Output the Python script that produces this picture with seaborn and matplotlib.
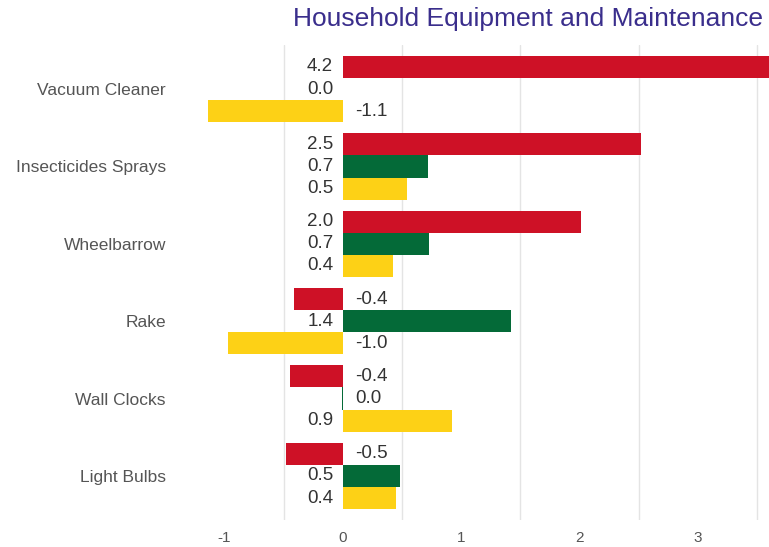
import pandas as pd
import matplotlib
matplotlib.use("Agg")
import matplotlib.pyplot as plt
import seaborn as sns
import numpy as np

# datos
categories = ["Vacuum Cleaner", "Insecticides Sprays", "Wheelbarrow",
              "Rake", "Wall Clocks", "Light Bulbs"]
series_names = ["Red", "Green", "Yellow"]
red_vals = [4.2, 2.52, 2.01, -0.41, -0.45, -0.48]
green_vals = [0.0, 0.72, 0.73, 1.42, -0.01, 0.48]
yellow_vals = [-1.14, 0.54, 0.42, -0.97, 0.92, 0.45]
x_ticks = [-1, 0, 1, 2, 3]
title = "Household Equipment and Maintenance"

colors = ["#CE1126", "#046A38", "#FDD116"]

df = pd.DataFrame({
    "category": categories * 3,
    "series": [s for s in series_names for _ in categories],
    "value": red_vals + green_vals + yellow_vals,
})

sns.set_style("white")
plt.rcParams["font.family"] = ["Liberation Sans", "DejaVu Sans"]
plt.rcParams["axes.unicode_minus"] = False

fig = plt.figure(figsize=(7.69, 5.47), dpi=100)
ax = fig.add_axes([0.2536, 0.0494, 0.7464, 0.8683])

sns.barplot(data=df, y="category", x="value", hue="series", order=categories,
            hue_order=series_names, palette=colors, orient="h", width=0.86,
            saturation=1, legend=False, linewidth=0, ax=ax)

# etiquetas de valor
for cont in ax.containers:
    for patch in cont:
        v = patch.get_x() + patch.get_width()
        if patch.get_x() < 0 or patch.get_width() < 0:
            v = -abs(patch.get_width())
        yc = patch.get_y() + patch.get_height() / 2
        txt = f"{round(v, 1) + 0.0:.1f}"
        if v >= 0:
            ax.annotate(txt, (0, yc), xytext=(-7, 0), textcoords="offset points",
                        ha="right", va="center", fontsize=13.5, color="#333333")
        else:
            ax.annotate(txt, (0, yc), xytext=(9, 0), textcoords="offset points",
                        ha="left", va="center", fontsize=13.5, color="#333333")

ax.set_xlim(-1.25, 3.6)
ax.set_ylim(5.57, -0.57)
ax.set_xticks(x_ticks)
ax.set_xticks(np.arange(-0.5, 3.6, 1.0), minor=True)
ax.grid(False)
ax.grid(True, which="minor", axis="x", color="#e4e4e4", linewidth=1)
ax.tick_params(axis="x", which="both", length=0, labelsize=11, colors="#555555", pad=8)
ax.tick_params(axis="y", length=0, labelsize=12.5, colors="#555555", pad=21)
ax.set_xlabel("")
ax.set_ylabel("")
sns.despine(ax=ax, left=True, bottom=True)

fig.text(0.992, 0.988, title, ha="right", va="top", fontsize=19, color="#3a2e8c")

fig.savefig("out.png", dpi=100)
